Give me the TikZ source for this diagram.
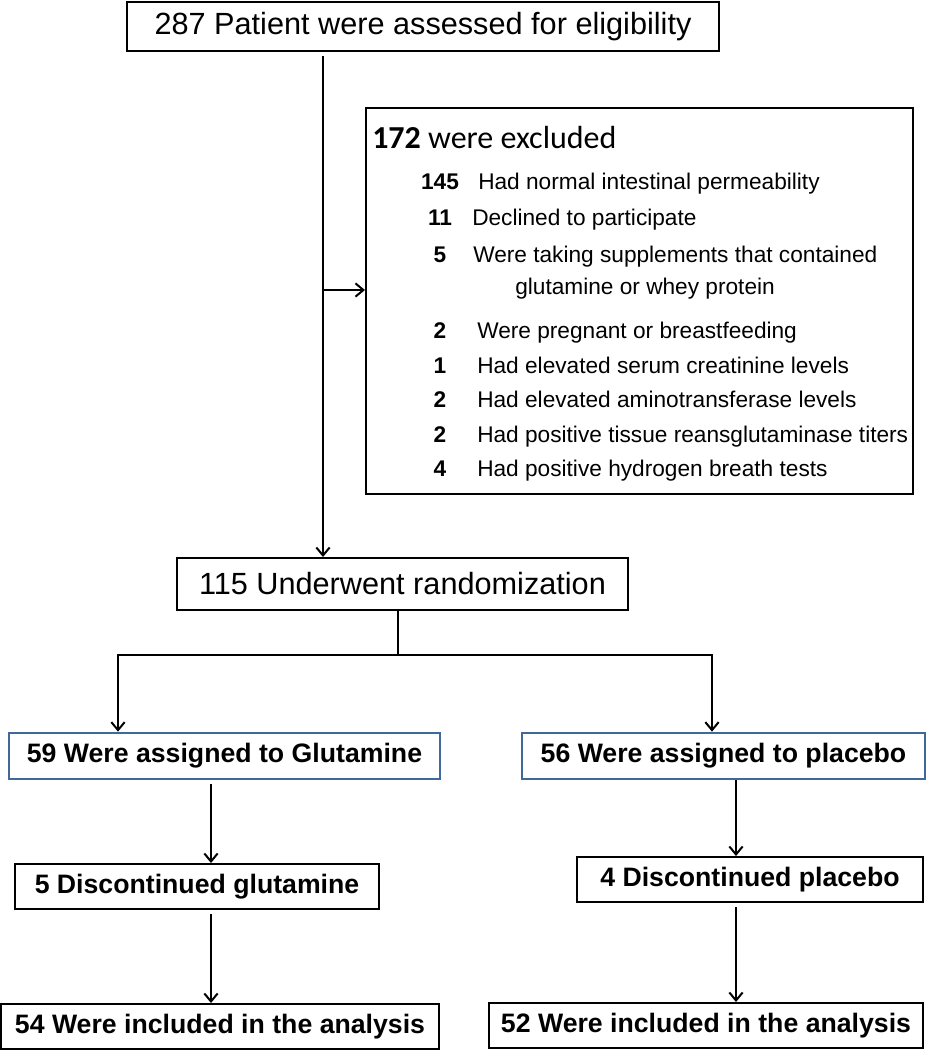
\documentclass[tikz,border=0pt]{standalone}
\usepackage{fontspec}
\setmainfont{Liberation Sans}
\newfontfamily\calibri{Carlito}
\usetikzlibrary{arrows.meta}
\definecolor{boxblue}{RGB}{65,104,155}

\begin{document}
\begin{tikzpicture}[x=0.75pt,y=-0.75pt,
	box/.style={draw,line width=1.5pt,inner sep=0pt},
	bigbox/.style={box,font=\fontsize{23}{27}\selectfont},
	bluebox/.style={box,draw=boxblue,line width=2pt,minimum height=34.5pt,font=\bfseries\fontsize{20}{24}\selectfont},
	plainbox/.style={box,minimum height=33.75pt,font=\bfseries\fontsize{20}{24}\selectfont},
	num/.style={anchor=base,inner sep=0pt,font=\bfseries\fontsize{17}{20}\selectfont},
	item/.style={anchor=base west,inner sep=0pt,font=\fontsize{17}{20}\selectfont},
	arr/.style={line width=1.5pt,-{Straight Barb[length=6pt,width=10pt]}}]
\useasboundingbox (0,0) rectangle (927,1050);

\node[bigbox,minimum width=444pt,minimum height=36.75pt] (assess) at (423,26.5) {287 Patient were assessed for eligibility};
\node[box,minimum width=410.25pt,minimum height=289.5pt] (excl) at (639.5,301) {};
\node[anchor=base west,inner sep=0pt,font=\calibri\fontsize{24}{28}\selectfont] (exhead) at (372,148) {\textbf{172} were excluded};
\foreach \num/\txt/\tx/\by [count=\i] in {145/Had normal intestinal permeability/478/189,
	11/Declined to participate/472/225,
	5/Were taking supplements that contained/473/262,
	2/Were pregnant or breastfeeding/477/338,
	1/Had elevated serum creatinine levels/477/373,
	2/Had elevated aminotransferase levels/477/407,
	2/Had positive tissue reansglutaminase titers/477/442,
	4/Had positive hydrogen breath tests/477/476}
{
	\node[num] (n\i) at (440,\by) {\num};
	\node[item] (t\i) at (\tx,\by) {\txt};
}
\node[item] (t3b) at (515,294) {glutamine or whey protein};

\node[bigbox,minimum width=338.25pt,minimum height=39pt] (rand) at (402.5,584) {115 Underwent randomization};
\node[bluebox,minimum width=323.25pt] (glut) at (224.5,756) {59 Were assigned to Glutamine};
\node[bluebox,minimum width=302.25pt] (plac) at (723.5,756) {56 Were assigned to placebo};
\node[plainbox,minimum width=273pt] (discglut) at (197,886.5) {5 Discontinued glutamine};
\node[plainbox,minimum width=259.5pt] (discplac) at (750,879.5) {4 Discontinued placebo};
\node[plainbox,minimum width=328.5pt] (inclglut) at (220,1026.5) {54 Were included in the analysis};
\node[plainbox,minimum width=325.5pt] (inclplac) at (706,1025.5) {52 Were included in the analysis};

\coordinate (trunk) at (323,0);
\coordinate (branch) at (323,290);
\coordinate (split) at (398,655);
\coordinate (gl) at (118,655);
\coordinate (pl) at (712,655);
\coordinate (lcol) at (211,0);
\coordinate (rcol) at (736,0);

\draw[arr,shorten <=3pt] (assess.south -| trunk) -- (rand.north -| trunk);
\draw[arr] (branch) -- (branch -| excl.west);
\draw[arr] (rand.south -| split) |- (gl) -- (glut.north -| gl);
\draw[arr] (split) -| (plac.north -| pl);
\draw[arr,shorten <=3pt] (glut.south -| lcol) -- (discglut.north -| lcol);
\draw[arr,shorten <=3pt] (discglut.south -| lcol) -- (inclglut.north -| lcol);
\draw[arr] (plac.south -| rcol) -- (discplac.north -| rcol);
\draw[arr,shorten <=3pt] (discplac.south -| rcol) -- (inclplac.north -| rcol);

\end{tikzpicture}
\end{document}
